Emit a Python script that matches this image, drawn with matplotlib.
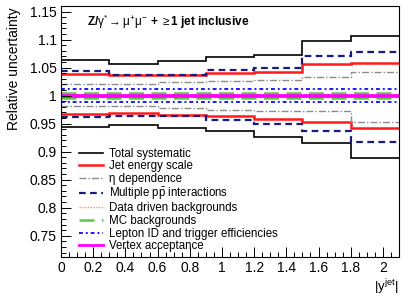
import numpy as np
import matplotlib
matplotlib.use('Agg')
import matplotlib.pyplot as plt
from matplotlib.ticker import MultipleLocator

plt.rcParams['font.family'] = ['Liberation Sans', 'DejaVu Sans']
plt.rcParams['mathtext.fontset'] = 'custom'
plt.rcParams['mathtext.rm'] = 'Liberation Sans'
plt.rcParams['mathtext.it'] = 'Liberation Sans:italic'
plt.rcParams['mathtext.bf'] = 'Liberation Sans:bold'

# bin edges in |y^jet|
edges = [0.0, 0.3, 0.6, 0.9, 1.2, 1.5, 1.8, 2.1]

# relative uncertainty bands (up / down) per bin
total_up = [1.063, 1.057, 1.061, 1.069, 1.072, 1.097, 1.106]
total_dn = [0.944, 0.948, 0.942, 0.936, 0.927, 0.915, 0.889]
jes_up = [1.039, 1.037, 1.037, 1.041, 1.042, 1.057, 1.058]
jes_dn = [0.968, 0.969, 0.966, 0.964, 0.959, 0.953, 0.943]
eta_up = [1.021, 1.021, 1.024, 1.027, 1.028, 1.033, 1.042]
eta_dn = [0.982, 0.982, 0.978, 0.975, 0.972, 0.972, 0.953]
pileup_up = [1.044, 1.037, 1.037, 1.045, 1.049, 1.070, 1.078]
pileup_dn = [0.961, 0.964, 0.964, 0.956, 0.949, 0.937, 0.917]
ddbkg_up = [1.003, 1.003, 1.003, 1.003, 1.003, 1.003, 1.003]
ddbkg_dn = [0.997, 0.997, 0.997, 0.997, 0.997, 0.997, 0.997]
mcbkg_up = [1.005, 1.005, 1.005, 1.005, 1.005, 1.005, 1.005]
mcbkg_dn = [0.995, 0.995, 0.995, 0.995, 0.995, 0.995, 0.995]
lepton_up = [1.012, 1.012, 1.012, 1.012, 1.012, 1.012, 1.012]
lepton_dn = [0.988, 0.988, 0.988, 0.988, 0.988, 0.988, 0.988]
vertex_up = [1.0015, 1.0015, 1.0015, 1.0015, 1.0015, 1.0015, 1.0015]
vertex_dn = [0.9985, 0.9985, 0.9985, 0.9985, 0.9985, 0.9985, 0.9985]

sources = [
    ('Total systematic', total_up, total_dn, dict(color='black', lw=1.2, ls='-')),
    ('Jet energy scale', jes_up, jes_dn, dict(color='#ff1a1a', lw=1.8, ls='-')),
    ('η dependence', eta_up, eta_dn,
     dict(color='#8c8c8c', lw=1.0, ls=(0, (5, 1.5, 1, 1.5)))),
    (r'Multiple $\mathrm{p\bar{p}}$ interactions', pileup_up, pileup_dn,
     dict(color='#1a1a80', lw=1.6, ls=(0, (3, 2)))),
    ('Data driven backgrounds', ddbkg_up, ddbkg_dn,
     dict(color='#ff9955', lw=1.0, ls=(0, (1, 1)))),
    ('MC backgrounds', mcbkg_up, mcbkg_dn,
     dict(color='#55cc44', lw=1.8, ls=(0, (6, 3)))),
    ('Lepton ID and trigger efficiencies', lepton_up, lepton_dn,
     dict(color='#1a1aff', lw=1.4, ls=(0, (2, 1.5, 1, 1.5)))),
    ('Vertex acceptance', vertex_up, vertex_dn, dict(color='#ff00ff', lw=2.0, ls='-')),
]

fig = plt.figure(figsize=(4.11, 3.0), dpi=100)
ax = fig.add_axes([61 / 411, 43 / 300, 338 / 411, 251 / 300])

handles = []
for label, up, dn, style in sources:
    h = ax.stairs(up, edges, baseline=None, label=label, **style)
    ax.stairs(dn, edges, baseline=None, **style)
    handles.append(h)

ax.set_xlim(0, 2.1)
ax.set_ylim(0.712, 1.16)

ax.xaxis.set_major_locator(MultipleLocator(0.2))
ax.xaxis.set_minor_locator(MultipleLocator(0.05))
ax.yaxis.set_major_locator(MultipleLocator(0.05))
ax.yaxis.set_minor_locator(MultipleLocator(0.01))
ax.set_xticklabels([f'{v:g}' for v in ax.get_xticks()])
ax.set_yticklabels([f'{v:g}' for v in ax.get_yticks()])
ax.tick_params(which='both', direction='in', top=False, right=False,
               labelsize=10, width=0.7)
ax.tick_params(which='major', length=7)
ax.tick_params(which='minor', length=3.5)
ax.tick_params(axis='y', pad=3)
ax.tick_params(axis='x', pad=3)
for s in ax.spines.values():
    s.set_linewidth(0.8)

fig.text(14 / 411, 1 - 7 / 300, 'Relative uncertainty', rotation=90,
         ha='center', va='top', fontsize=10)
fig.text(399 / 411, 1 - 297 / 300, r'$|\mathrm{y}^{\mathrm{jet}}|$',
         ha='right', va='bottom', fontsize=9.5)
ax.text((87 - 61) / 338, 1 - (21.5 - 6) / 251,
        r'Z/$\mathrm{\gamma^{*}\rightarrow\mu^{+}\mu^{-}}$ + $\mathrm{\geq}$1 jet inclusive',
        transform=ax.transAxes, ha='left', va='center', fontsize=8.5, fontweight='bold')

leg = ax.legend(handles=handles, loc='upper left', bbox_to_anchor=(0.053, 0.435),
                frameon=False, fontsize=8.3, handlelength=2.1, handletextpad=0.55,
                labelspacing=0.05, borderpad=0, borderaxespad=0)

fig.savefig('out.png', dpi=100)
